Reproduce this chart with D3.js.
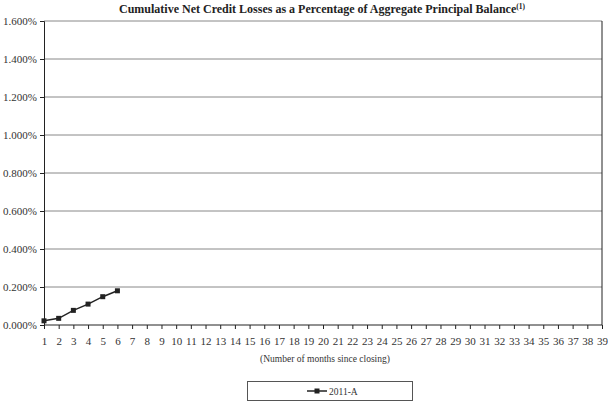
<!DOCTYPE html>
<html><head><meta charset="utf-8">
<script src="https://cdn.jsdelivr.net/npm/d3@7"></script>
<style>body{margin:0;background:#fff}svg{font-family:"Liberation Serif",serif}</style>
</head><body><svg id="c" width="608" height="403"></svg>
<script>
const months = d3.range(1, 40);
const seriesName = "2011-A";
const seriesMonths = [1, 2, 3, 4, 5, 6];
const seriesValues = [0.022, 0.035, 0.077, 0.110, 0.149, 0.180];
const yTicks = [0, 0.2, 0.4, 0.6, 0.8, 1.0, 1.2, 1.4, 1.6];

const svg = d3.select("#c");
const L = 44, R = 602, T = 21, B = 325;
const x = d3.scalePoint().domain(months).range([L, R]);
const y = d3.scaleLinear().domain([0, 1.6]).range([B, T]);

svg.append("text").attr("x", 322).attr("y", 13).attr("text-anchor", "middle")
  .attr("font-weight", "bold").attr("font-size", 12).attr("fill", "#222")
  .text("Cumulative Net Credit Losses as a Percentage of Aggregate Principal Balance")
  .append("tspan").attr("font-size", 7.5).attr("dy", -4).text("(1)");

// gridlines
svg.append("g").selectAll("line").data(yTicks.filter(d => d > 0)).join("line")
  .attr("x1", L).attr("x2", R).attr("y1", d => y(d)).attr("y2", d => y(d))
  .attr("stroke", "#888").attr("stroke-width", 1);

// y axis
const ya = svg.append("g").attr("transform", `translate(${L},0)`)
  .call(d3.axisLeft(y).tickValues(yTicks).tickFormat(d => d.toFixed(3) + "%").tickSize(4).tickPadding(3));
ya.select(".domain").attr("stroke", "#222");
ya.selectAll("text").attr("font-size", 11).attr("font-family", "Liberation Serif").attr("fill", "#333");
ya.selectAll(".tick line").attr("stroke", "#222");

// right border
svg.append("line").attr("x1", R).attr("x2", R).attr("y1", T).attr("y2", B).attr("stroke", "#222");

// x axis
const xa = svg.append("g").attr("transform", `translate(0,${B})`)
  .call(d3.axisBottom(x).tickSize(4).tickPadding(8));
xa.select(".domain").attr("stroke", "#222").attr("d", `M${L},0H${R}`);
xa.selectAll("text").attr("font-size", 11).attr("font-family", "Liberation Serif").attr("fill", "#333");
xa.selectAll(".tick line").attr("stroke", "#222");

svg.append("text").attr("x", 325).attr("y", 362).attr("text-anchor", "middle")
  .attr("font-size", 9.5).attr("fill", "#333").text("(Number of months since closing)");

// series
const pts = seriesMonths.map((m, i) => [m, seriesValues[i]]);
svg.append("path").datum(pts)
  .attr("d", d3.line().x(d => x(d[0])).y(d => y(d[1])))
  .attr("fill", "none").attr("stroke", "#222").attr("stroke-width", 1.5);
svg.append("g").selectAll("rect").data(pts).join("rect")
  .attr("x", d => x(d[0]) - 2.5).attr("y", d => y(d[1]) - 2.5)
  .attr("width", 5).attr("height", 5).attr("fill", "#222");

// legend
const lg = svg.append("g");
lg.append("rect").attr("x", 247.5).attr("y", 381.5).attr("width", 165).attr("height", 19)
  .attr("fill", "#fff").attr("stroke", "#555");
lg.append("line").attr("x1", 307).attr("x2", 327).attr("y1", 391).attr("y2", 391)
  .attr("stroke", "#222").attr("stroke-width", 1.5);
lg.append("rect").attr("x", 314.5).attr("y", 388.5).attr("width", 5).attr("height", 5).attr("fill", "#222");
lg.append("text").attr("x", 329).attr("y", 394.5).attr("font-size", 9.5).attr("fill", "#333").text(seriesName);
</script></body></html>
